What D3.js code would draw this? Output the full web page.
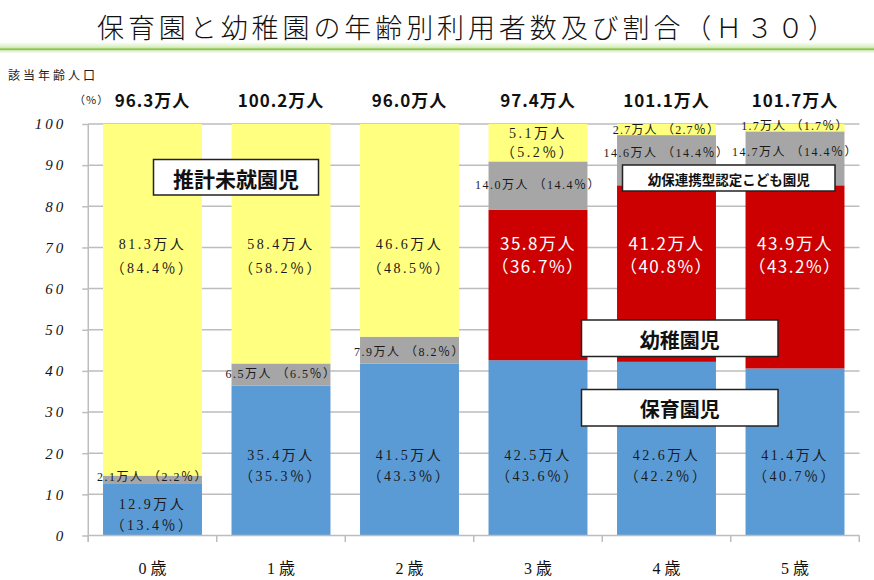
<!DOCTYPE html>
<html><head><meta charset="utf-8">
<script src="https://cdn.jsdelivr.net/npm/d3@7"></script>
<style>
html,body{margin:0;padding:0;background:#fff;}
svg{display:block;}
</style></head>
<body>
<svg id="chart" width="874" height="580"></svg>
<script>
// ---------------- data ----------------
const categories = ["0歳", "1歳", "2歳", "3歳", "4歳", "5歳"];
const xTickLabels = ["0 歳", "1 歳", "2 歳", "3 歳", "4 歳", "5 歳"];
const yTicks = [0, 10, 20, 30, 40, 50, 60, 70, 80, 90, 100];
// segment heights (% of age population)
const hoikuen  = [12.7, 36.4, 41.8, 42.6, 42.2, 40.6];   // 保育園児
const youchien = [0, 0, 0, 36.6, 42.9, 44.5];            // 幼稚園児
const nintei   = [1.85, 5.4, 6.5, 11.7, 12.2, 13.1];     // 幼保連携型認定こども園児
const mishuen  = [85.45, 58.2, 51.7, 9.1, 2.7, 1.8];     // 推計未就園児
// label texts
const totals = ["96.3万人", "100.2万人", "96.0万人", "97.4万人", "101.1万人", "101.7万人"];
const hoikuenPeople = ["12.9", "35.4", "41.5", "42.5", "42.6", "41.4"];
const hoikuenPct    = ["13.4", "35.3", "43.3", "43.6", "42.2", "40.7"];
const youchienPeople = [null, null, null, "35.8", "41.2", "43.9"];
const youchienPct    = [null, null, null, "36.7", "40.8", "43.2"];
const ninteiPeople = ["2.1", "6.5", "7.9", "14.0", "14.6", "14.7"];
const nintePct     = ["2.2", "6.5", "8.2", "14.4", "14.4", "14.4"];
const mishuenPeople = ["81.3", "58.4", "46.6", "5.1", "2.7", "1.7"];
const mishuenPct    = ["84.4", "58.2", "48.5", "5.2", "2.7", "1.7"];
const seriesKeys = ["hoikuen", "youchien", "nintei", "mishuen"];
const seriesColors = {hoikuen: "#5b9bd5", youchien: "#cc0000", nintei: "#a6a6a6", mishuen: "#ffff80"};
const legendNames = {mishuen: "推計未就園児", nintei: "幼保連携型認定こども園児", youchien: "幼稚園児", hoikuen: "保育園児"};

// ---------------- layout ----------------
const svg = d3.select("#chart");
const x = d3.scaleBand().domain(categories).range([88.25, 859.25]).paddingInner(0.23).paddingOuter(0.115);
const y = d3.scaleLinear().domain([0, 100]).range([535.5, 124]);
const SERIF = "'Liberation Serif','DejaVu Serif','Noto Sans CJK JP',serif";
const SANS = "'Noto Sans CJK JP','Noto Sans',sans-serif";

// title
const defs = svg.append("defs");
const g1 = defs.append("linearGradient").attr("id", "gband").attr("x1", 0).attr("x2", 0).attr("y1", 0).attr("y2", 1);
g1.append("stop").attr("offset", "0%").attr("stop-color", "#ffffff");
g1.append("stop").attr("offset", "70%").attr("stop-color", "#d9efc0");
g1.append("stop").attr("offset", "100%").attr("stop-color", "#b8de8e");
svg.append("rect").attr("x", 0).attr("y", 42).attr("width", 874).attr("height", 7).attr("fill", "url(#gband)");
svg.append("line").attr("x1", 0).attr("x2", 874).attr("y1", 49.5).attr("y2", 49.5).attr("stroke", "#8cc34a").attr("stroke-width", 2);
svg.append("rect").attr("x", 0).attr("y", 50.5).attr("width", 874).attr("height", 2).attr("fill", "#e3f2d3");

svg.append("text").attr("x", 97).attr("y", 38)
  .attr("font-family", SANS).attr("font-size", 27).attr("font-weight", 300).attr("fill", "#111")
  .attr("textLength", 738).attr("lengthAdjust", "spacing")
  .text("保育園と幼稚園の年齢別利用者数及び割合（Ｈ３０）");

// axis captions
svg.append("text").attr("x", 8).attr("y", 80).attr("font-family", SANS).attr("font-size", 12)
  .attr("letter-spacing", 3).attr("fill", "#222").text("該当年齢人口");
svg.append("text").attr("x", 74).attr("y", 104).attr("font-family", SANS).attr("font-size", 11)
  .attr("letter-spacing", 1).attr("fill", "#222").text("（%）");

// gridlines
svg.append("g").selectAll("line").data(yTicks.filter(d => d > 0)).join("line")
  .attr("x1", 88).attr("x2", 859.5).attr("y1", d => y(d)).attr("y2", d => y(d))
  .attr("stroke", "#bdbdbd").attr("stroke-width", 1.5);

// y axis
const yAxis = svg.append("g").attr("transform", "translate(88.25,0)")
  .call(d3.axisLeft(y).tickValues(yTicks).tickSize(6).tickPadding(16));
yAxis.select(".domain").attr("stroke", "#bdbdbd").attr("stroke-width", 1.5).attr("d", "M0,124V542");
yAxis.selectAll(".tick line").attr("stroke", "#bdbdbd").attr("stroke-width", 1.5);
yAxis.selectAll(".tick text").attr("font-family", SERIF).attr("font-style", "italic")
  .attr("font-size", 15).attr("letter-spacing", 3).attr("fill", "#111");

// stacked bars
const rows = categories.map((c, i) => ({cat: c, hoikuen: hoikuen[i], youchien: youchien[i], nintei: nintei[i], mishuen: mishuen[i]}));
const stacked = d3.stack().keys(seriesKeys)(rows);
svg.append("g").selectAll("g").data(stacked).join("g")
  .attr("fill", d => seriesColors[d.key])
  .selectAll("rect").data(d => d).join("rect")
  .attr("x", d => x(d.data.cat)).attr("width", x.bandwidth())
  .attr("y", d => y(d[1])).attr("height", d => Math.max(0, y(d[0]) - y(d[1])));

// x axis
const xAxisG = svg.append("g");
xAxisG.append("line").attr("x1", 88).attr("x2", 859.5).attr("y1", 535.5).attr("y2", 535.5)
  .attr("stroke", "#bdbdbd").attr("stroke-width", 1.5);
xAxisG.selectAll("line.tk").data(d3.range(categories.length + 1)).join("line").attr("class", "tk")
  .attr("x1", i => 88.25 + i * x.step()).attr("x2", i => 88.25 + i * x.step())
  .attr("y1", 535.5).attr("y2", 542).attr("stroke", "#bdbdbd").attr("stroke-width", 1.5);
xAxisG.selectAll("text").data(categories).join("text")
  .attr("x", d => x(d) + x.bandwidth() / 2).attr("y", 574).attr("text-anchor", "middle")
  .attr("font-family", SERIF).attr("font-size", 16).attr("fill", "#111")
  .text((d, i) => xTickLabels[i]);

// totals
svg.append("g").selectAll("text").data(categories).join("text")
  .attr("x", d => x(d) + x.bandwidth() / 2).attr("y", 107).attr("text-anchor", "middle")
  .attr("font-family", SANS).attr("font-weight", "bold").attr("font-size", 17).attr("letter-spacing", 1)
  .attr("fill", "#111").text((d, i) => totals[i]);

// in-bar labels
const lab = svg.append("g");
function label(i, ymid, text, opts) {
  const o = Object.assign({size: 14, fill: "#1a1a1a", family: SERIF, weight: "normal", ls: 2.5}, opts || {});
  lab.append("text").attr("x", x(categories[i]) + x.bandwidth() / 2 + (o.dx || 0)).attr("y", ymid)
    .attr("text-anchor", "middle").attr("dominant-baseline", "central")
    .attr("font-family", o.family).attr("font-size", o.size).attr("font-weight", o.weight)
    .attr("letter-spacing", o.ls).attr("fill", o.fill).text(text);
}
// label anchors (in % units)
const blueAnchor = [4.9, 16.9, 16.9, 16.9, 16.9, 16.9];
const grayAnchor = [14.3, 39.2, 44.7, 85.2, 93.0, 93.2];
categories.forEach((c, i) => {
  // 保育園児
  const yb = y(blueAnchor[i]);
  label(i, yb - 10.5, hoikuenPeople[i] + "万人");
  label(i, yb + 10.5, "（" + hoikuenPct[i] + "％）");
  // 認定こども園
  label(i, y(grayAnchor[i]), ninteiPeople[i] + "万人 （" + nintePct[i] + "％）", {size: 12, ls: 1.5});
  // 幼稚園児
  if (youchienPeople[i]) {
    const yr = y(68.3);
    label(i, yr - 11.5, youchienPeople[i] + "万人", {family: SANS, size: 17, fill: "#fff", ls: 1.5});
    label(i, yr + 11.5, "（" + youchienPct[i] + "%）", {family: SANS, size: 17, fill: "#fff", ls: 1.5});
  }
  // 未就園児
  if (i < 3) {
    const yy = y(67.9);
    label(i, yy - 12, mishuenPeople[i] + "万人");
    label(i, yy + 12, "（" + mishuenPct[i] + "％）");
  } else if (i === 3) {
    const yy = y(95.4);
    label(i, yy - 9.7, mishuenPeople[i] + "万人");
    label(i, yy + 9.7, "（" + mishuenPct[i] + "％）");
  } else {
    const top = d3.sum([hoikuen[i], youchien[i], nintei[i]]);
    const yy = (y(top) + y(100)) / 2 - (i === 5 ? 2 : 0);
    label(i, yy, mishuenPeople[i] + "万人 （" + mishuenPct[i] + "％）", {size: 12, ls: 1.2});
  }
});

// legend boxes
const legendBoxes = [
  {key: "mishuen", x0: 153.5, x1: 318.5, y0: 159.5, y1: 195, size: 21},
  {key: "nintei", x0: 622.5, x1: 835, y0: 165, y1: 191, size: 13.5},
  {key: "youchien", x0: 581.5, x1: 778, y0: 320, y1: 356.5, size: 20},
  {key: "hoikuen", x0: 581.5, x1: 778, y0: 389.5, y1: 426, size: 20}
];
const lg = svg.append("g");
legendBoxes.forEach(b => {
  lg.append("rect").attr("x", b.x0).attr("y", b.y0).attr("width", b.x1 - b.x0).attr("height", b.y1 - b.y0)
    .attr("fill", "#fff").attr("stroke", "#222").attr("stroke-width", 1.5);
  lg.append("text").attr("x", (b.x0 + b.x1) / 2).attr("y", (b.y0 + b.y1) / 2 + 1)
    .attr("text-anchor", "middle").attr("dominant-baseline", "central")
    .attr("font-family", SANS).attr("font-weight", "bold").attr("font-size", b.size).attr("fill", "#111")
    .text(legendNames[b.key]);
});
</script>
</body></html>
